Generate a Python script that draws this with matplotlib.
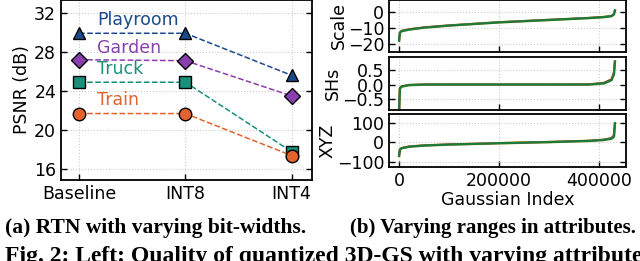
import matplotlib
matplotlib.use("Agg")
import matplotlib.pyplot as plt
import numpy as np

# --- Left: PSNR under RTN quantization ---
levels = ["Baseline", "INT8", "INT4"]
scenes = ["Playroom", "Garden", "Truck", "Train"]
psnr_playroom = [29.9, 29.9, 25.6]
psnr_garden = [27.2, 27.1, 23.5]
psnr_truck = [24.9, 24.9, 17.8]
psnr_train = [21.7, 21.7, 17.4]
scene_colors = ["#1a4a8c", "#8a3fae", "#18907a", "#e2632c"]
scene_markers = ["^", "D", "s", "o"]
label_y = [31.3, 28.4, 26.3, 23.1]

# --- Right: sorted attribute values (sampled along the index) ---
idx = [0, 1500, 5000, 20000, 50000, 100000, 200000, 300000, 380000, 410000, 425000, 430000, 432000]
scale_a = [-18, -13, -12, -11, -9.8, -8.5, -6.5, -5.0, -3.8, -3.2, -2.6, -1.5, 1.0]
scale_b = [-17.5, -12.8, -11.8, -10.8, -9.6, -8.4, -6.4, -4.9, -3.7, -3.1, -2.5, -1.3, 0.9]
shs_a = [-0.9, -0.15, -0.07, -0.02, 0.0, 0.0, 0.0, 0.0, 0.0, 0.04, 0.15, 0.35, 0.8]
shs_b = [-0.88, -0.12, -0.06, -0.015, 0.0, 0.0, 0.0, 0.0, 0.005, 0.06, 0.18, 0.42, 0.78]
xyz_a = [-70, -38, -30, -22, -16, -11, -4, 2, 8, 13, 20, 30, 100]
xyz_b = [-67, -36, -29, -21, -15, -10, -3.5, 2.5, 9, 15, 23, 38, 95]
line_colors = ["#f3e27a", "#f0a060", "#d8283a", "#1b7a3c"]

plt.rcParams["font.family"] = "DejaVu Sans"
plt.rcParams["font.size"] = 12.5

fig = plt.figure(figsize=(6.4, 2.61), dpi=100)

def style_axes(ax):
    ax.tick_params(direction="in", top=False, right=True, length=4, width=1.0)
    for s in ax.spines.values():
        s.set_linewidth(1.3)
    ax.grid(True, linestyle=":", color="#cccccc", linewidth=0.8)
    ax.set_axisbelow(True)

ax = fig.add_axes([0.0953, 0.310, 0.392, 0.690])
style_axes(ax)
x = np.arange(len(levels))
series = [psnr_playroom, psnr_garden, psnr_truck, psnr_train]
for name, vals, c, m, ly in zip(scenes, series, scene_colors, scene_markers, label_y):
    ax.plot(x, vals, linestyle="--", color=c, linewidth=1.1, marker=m,
            markersize=9 if m != "D" else 8.5, markerfacecolor=c,
            markeredgecolor="black", markeredgewidth=1.0)
    ax.text(0.17, ly, name, color=c, va="center", ha="left", fontsize=12.5)
ax.set_xticks(x)
ax.set_xticklabels(levels)
ax.set_yticks([16, 20, 24, 28, 32])
ax.set_xlim(-0.17, 2.19)
ax.set_ylim(14.9, 33.3)
ax.set_ylabel("PSNR (dB)", labelpad=2)

# right panel: three stacked axes
rboxes = [[0.608, 0.801, 0.370, 0.199],
          [0.608, 0.5785, 0.370, 0.203],
          [0.608, 0.360, 0.370, 0.203]]
rdata = [(scale_a, scale_b), (shs_a, shs_b), (xyz_a, xyz_b)]
rlabels = ["Scale", "SHs", "XYZ"]
rticks = [[-20, -10, 0], [-0.5, 0.0, 0.5], [-100, 0, 100]]
rticklabels = [["−20", "−10", "0"], ["−0.5", "0.0", "0.5"], ["−100", "0", "100"]]
rlims = [(-25, 7.5), (-0.88, 0.95), (-128, 148)]
for i, box in enumerate(rboxes):
    a = fig.add_axes(box)
    style_axes(a)
    lo, hi = rdata[i]
    a.plot(idx, lo, color=line_colors[0], linewidth=1.9)
    a.plot(idx, hi, color=line_colors[1], linewidth=1.6)
    a.plot(idx, hi, color=line_colors[2], linewidth=1.2)
    a.plot(idx, lo, color=line_colors[3], linewidth=1.7)
    a.set_xlim(-20000, 454000)
    a.set_ylim(*rlims[i])
    a.set_yticks(rticks[i])
    a.set_yticklabels(rticklabels[i])
    a.set_xticks([0, 200000, 400000])
    a.set_ylabel(rlabels[i], labelpad=0)
    if i < 2:
        a.set_xticklabels([])
    else:
        a.set_xticklabels(["0", "200000", "400000"])
        a.set_xlabel("Gaussian Index", labelpad=1)

fig.text(0.008, 0.107, "(a) RTN with varying bit-widths.", family="Liberation Serif",
         weight="bold", fontsize=15.5, va="baseline")
fig.text(0.77, 0.107, "(b) Varying ranges in attributes.", family="Liberation Serif",
         weight="bold", fontsize=15, va="baseline", ha="center")
fig.text(0.008, -0.004, "Fig. 2: Left: Quality of quantized 3D-GS with varying attribute",
         family="Liberation Serif", weight="bold", fontsize=17, va="baseline")

fig.savefig("out.png", dpi=100)
